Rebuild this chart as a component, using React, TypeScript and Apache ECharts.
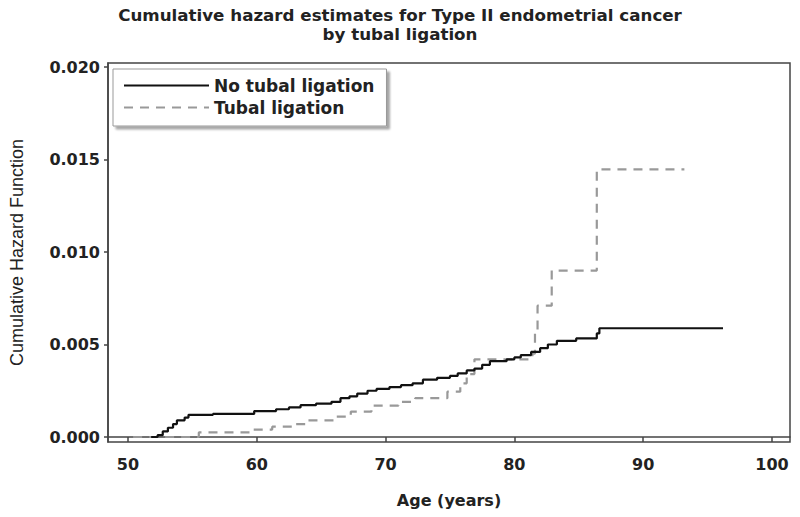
import React, { useEffect, useRef } from "react";
import * as echarts from "echarts";

const noLigationAges = [51.8, 52.3, 52.7, 53.1, 53.5, 53.8, 54.4, 54.7, 56.6, 59.8, 61.5, 62.5, 63.4, 64.6, 65.8, 66.5, 67.2, 67.8, 68.6, 69.3, 70.3, 71.2, 72.1, 72.9, 74.0, 75.0, 75.6, 76.3, 76.9, 77.5, 78.1, 79.4, 80.0, 80.5, 81.3, 82.0, 82.6, 83.3, 84.8, 86.4, 86.6, 96.2];
const noLigationHazard = [0, 0.0001, 0.0003, 0.0005, 0.0007, 0.0009, 0.00105, 0.0012, 0.00125, 0.0014, 0.0015, 0.0016, 0.00172, 0.0018, 0.0019, 0.0021, 0.0022, 0.00235, 0.0025, 0.0026, 0.0027, 0.0028, 0.0029, 0.0031, 0.0032, 0.0033, 0.00344, 0.0036, 0.0037, 0.0039, 0.0041, 0.0042, 0.0043, 0.00443, 0.0046, 0.0048, 0.005, 0.0052, 0.00533, 0.0056, 0.00588, 0.00588];

const ligationAges = [50.4, 55.5, 59.5, 61.2, 62.8, 64.0, 66.2, 67.3, 68.9, 71.0, 72.3, 74.8, 75.8, 76.3, 76.9, 81.4, 81.6, 81.8, 82.9, 86.4, 93.2];
const ligationHazard = [0, 0.00025, 0.0004, 0.00056, 0.0007, 0.0009, 0.0011, 0.00137, 0.0017, 0.0019, 0.0021, 0.00245, 0.0029, 0.0034, 0.0042, 0.0045, 0.0056, 0.0071, 0.009, 0.01447, 0.01447];

const xTicks = [50, 60, 70, 80, 90, 100];
const yTicks = [0, 0.005, 0.01, 0.015, 0.02];

const seriesNames = ["No tubal ligation", "Tubal ligation"];
const titleText = "Cumulative hazard estimates for Type II endometrial cancer\nby tubal ligation";

const FONT = "DejaVu Sans";

export default function App() {
  const ref = useRef<HTMLDivElement>(null);
  useEffect(() => {
    if (!ref.current) return;
    const chart = echarts.init(ref.current, null, { renderer: "svg" });
    const zip = (xs: number[], ys: number[]) => xs.map((x, i) => [x, ys[i]]);
    chart.setOption({
      animation: false,
      backgroundColor: "#ffffff",
      title: {
        text: titleText,
        left: "center",
        top: 5,
        padding: [0, 0, 0, 10],
        textStyle: {
          fontFamily: FONT,
          fontWeight: "bold",
          fontSize: 16.7,
          lineHeight: 19,
          color: "#222",
        },
      },
      legend: {
        orient: "vertical",
        left: 113,
        top: 69,
        padding: [8, 12, 10, 10],
        itemGap: 5,
        itemWidth: 85,
        itemHeight: 14,
        backgroundColor: "#fff",
        borderColor: "#999",
        borderWidth: 1,
        shadowColor: "rgba(0,0,0,0.35)",
        shadowBlur: 2,
        shadowOffsetX: 3,
        shadowOffsetY: 3,
        itemStyle: { color: "transparent", borderColor: "transparent", borderWidth: 0, opacity: 0 },
        textStyle: { fontFamily: FONT, fontWeight: "bold", fontSize: 17, color: "#222" },
        data: seriesNames,
      },
      grid: {
        left: 108,
        right: 10,
        top: 63,
        bottom: 75,
        show: true,
        borderColor: "#444",
        borderWidth: 1.5,
        backgroundColor: "transparent",
      },
      xAxis: {
        type: "value",
        min: 48.45,
        max: 101.4,
        name: "Age (years)",
        nameLocation: "middle",
        nameGap: 50,
        nameTextStyle: { fontFamily: FONT, fontWeight: "bold", fontSize: 16, color: "#222" },
        axisLine: { show: true, lineStyle: { color: "#444", width: 1.5 } },
        axisTick: { show: true, length: 5, customValues: xTicks, lineStyle: { color: "#444", width: 1.5 } },
        axisLabel: {
          customValues: xTicks,
          margin: 14,
          fontFamily: FONT,
          fontWeight: "bold",
          fontSize: 16,
          color: "#222",
        },
        splitLine: { show: false },
      },
      yAxis: {
        type: "value",
        min: -0.00027,
        max: 0.02022,
        name: "Cumulative Hazard Function",
        nameLocation: "middle",
        nameRotate: 90,
        nameGap: 82,
        nameTextStyle: { fontFamily: "Liberation Sans", fontSize: 18, color: "#222" },
        axisLine: { show: true, lineStyle: { color: "#444", width: 1.5 } },
        axisTick: { show: true, length: 4, customValues: yTicks, lineStyle: { color: "#444", width: 1.5 } },
        axisLabel: {
          customValues: yTicks,
          margin: 8,
          formatter: (v: number) => v.toFixed(3),
          fontFamily: FONT,
          fontWeight: "bold",
          fontSize: 16,
          color: "#222",
        },
        splitLine: { show: false },
      },
      series: [
        {
          name: seriesNames[0],
          type: "line",
          step: "end",
          symbol: "none",
          data: zip(noLigationAges, noLigationHazard),
          lineStyle: { color: "#111", width: 2.2 },
          itemStyle: { color: "#111" },
          z: 3,
        },
        {
          name: seriesNames[1],
          type: "line",
          step: "end",
          symbol: "none",
          data: zip(ligationAges, ligationHazard),
          lineStyle: { color: "#999", width: 2.2, type: [9, 7] },
          itemStyle: { color: "#999" },
          z: 2,
        },
      ],
    });
    return () => chart.dispose();
  }, []);
  return (
    <div
      ref={ref}
      style={{ position: "fixed", left: 0, top: 0, width: 800, height: 517, background: "#fff" }}
    />
  );
}
